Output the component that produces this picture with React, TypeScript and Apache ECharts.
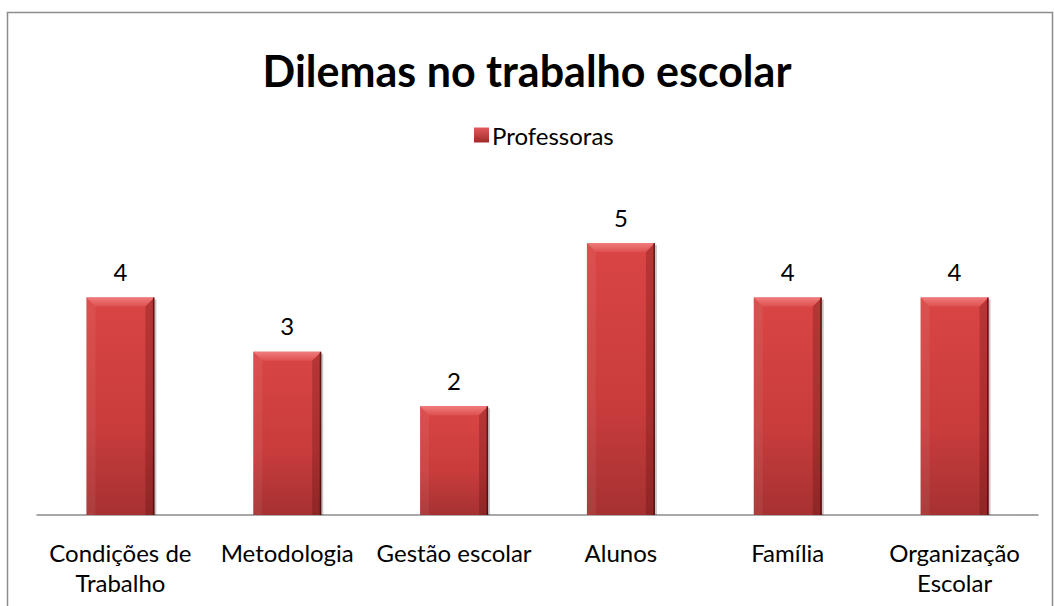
import React, { useEffect, useRef } from "react";
import * as echarts from "echarts";

const categories = ["Condições de\nTrabalho", "Metodologia", "Gestão escolar", "Alunos", "Família", "Organização\nEscolar"];
const values = [4, 3, 2, 5, 4, 4];
const seriesName = "Professoras";
const titleText = "Dilemas no trabalho escolar";

const FONT = "Lato, 'Open Sans', sans-serif";

export default function App() {
  const ref = useRef<HTMLDivElement>(null);
  useEffect(() => {
    document.body.style.margin = "0";
    const chart = echarts.init(ref.current!, undefined, { renderer: "svg" });
    const bev = 9;
    chart.setOption({
      animation: false,
      backgroundColor: "#fff",
      title: {
        text: titleText,
        left: "center",
        top: 44,
        textStyle: { fontFamily: FONT, fontWeight: "bold", fontSize: 43, color: "#000" },
      },
      legend: {
        top: 118,
        left: 469,
        icon: "rect",
        itemWidth: 15,
        itemHeight: 15,
        itemGap: 4,
        textStyle: { fontFamily: FONT, fontSize: 24, color: "#000", padding: [0, 0, 0, -2] },
        data: [{ name: seriesName, itemStyle: { color: new echarts.graphic.LinearGradient(0, 0, 0, 1, [{ offset: 0, color: "#E25A5A" }, { offset: 1, color: "#9E2A2A" }]) } }],
      },
      graphic: [
        { type: "rect", shape: { x: 7.5, y: 12.5, width: 1045, height: 600 }, style: { fill: "none", stroke: "#8c8c8c", lineWidth: 1.5 }, silent: true },
      ],
      grid: { left: 37, right: 16, top: 243, bottom: 91 },
      xAxis: {
        type: "category",
        data: categories,
        axisLine: { lineStyle: { color: "#8c8c8c", width: 1.5 } },
        axisTick: { show: false },
        axisLabel: { fontFamily: FONT, fontSize: 24, color: "#000", margin: 22, lineHeight: 30, interval: 0 },
      },
      yAxis: { type: "value", min: 0, max: 5, show: false, splitLine: { show: false } },
      series: [
        {
          name: seriesName,
          type: "custom",
          data: values.map((v, i) => [i, v]),
          renderItem: (params: any, api: any) => {
            const idx = api.value(0);
            const v = api.value(1);
            const top = api.coord([idx, v]);
            const bottom = api.coord([idx, 0]);
            const w = 68;
            const x0 = top[0] - w / 2;
            const x1 = top[0] + w / 2;
            const y0 = top[1];
            const y1 = bottom[1];
            return {
              type: "group",
              children: [
                {
                  type: "rect",
                  shape: { x: x0 + 2, y: y0 + 2, width: w, height: y1 - y0 - 2 },
                  style: { fill: "rgba(0,0,0,0.22)" },
                },
                {
                  type: "rect",
                  shape: { x: x0, y: y0, width: w, height: y1 - y0 },
                  style: {
                    fill: new echarts.graphic.LinearGradient(0, 0, 0, 1, [
                      { offset: 0, color: "#DA4545" },
                      { offset: 0.6, color: "#C93C3C" },
                      { offset: 1, color: "#A63131" },
                    ]),
                  },
                },
                {
                  type: "polygon",
                  shape: { points: [[x0, y0], [x1, y0], [x1 - bev, y0 + bev], [x0 + bev, y0 + bev]] },
                  style: {
                    fill: new echarts.graphic.LinearGradient(0, 0, 0, 1, [
                      { offset: 0, color: "#F07C7C" },
                      { offset: 1, color: "#DE5050" },
                    ]),
                  },
                },
                {
                  type: "polygon",
                  shape: { points: [[x0, y0], [x0 + bev, y0 + bev], [x0 + bev, y1], [x0, y1]] },
                  style: { fill: "rgba(255,255,255,0.06)" },
                },
                {
                  type: "polygon",
                  shape: { points: [[x1, y0], [x1 - bev, y0 + bev], [x1 - bev, y1], [x1, y1]] },
                  style: { fill: "rgba(60,0,0,0.22)" },
                },
                {
                  type: "rect",
                  shape: { x: x1 - 1.5, y: y0, width: 1.5, height: y1 - y0 },
                  style: { fill: "rgba(40,0,0,0.6)" },
                },
                {
                  type: "text",
                  style: {
                    text: String(v),
                    x: top[0],
                    y: y0 - 26,
                    align: "center",
                    verticalAlign: "middle",
                    fontFamily: FONT,
                    fontSize: 24,
                    fill: "#000",
                  },
                },
              ],
            };
          },
          encode: { x: 0, y: 1 },
        },
      ],
    });
    return () => chart.dispose();
  }, []);
  return <div ref={ref} style={{ width: 1054, height: 606 }} />;
}
